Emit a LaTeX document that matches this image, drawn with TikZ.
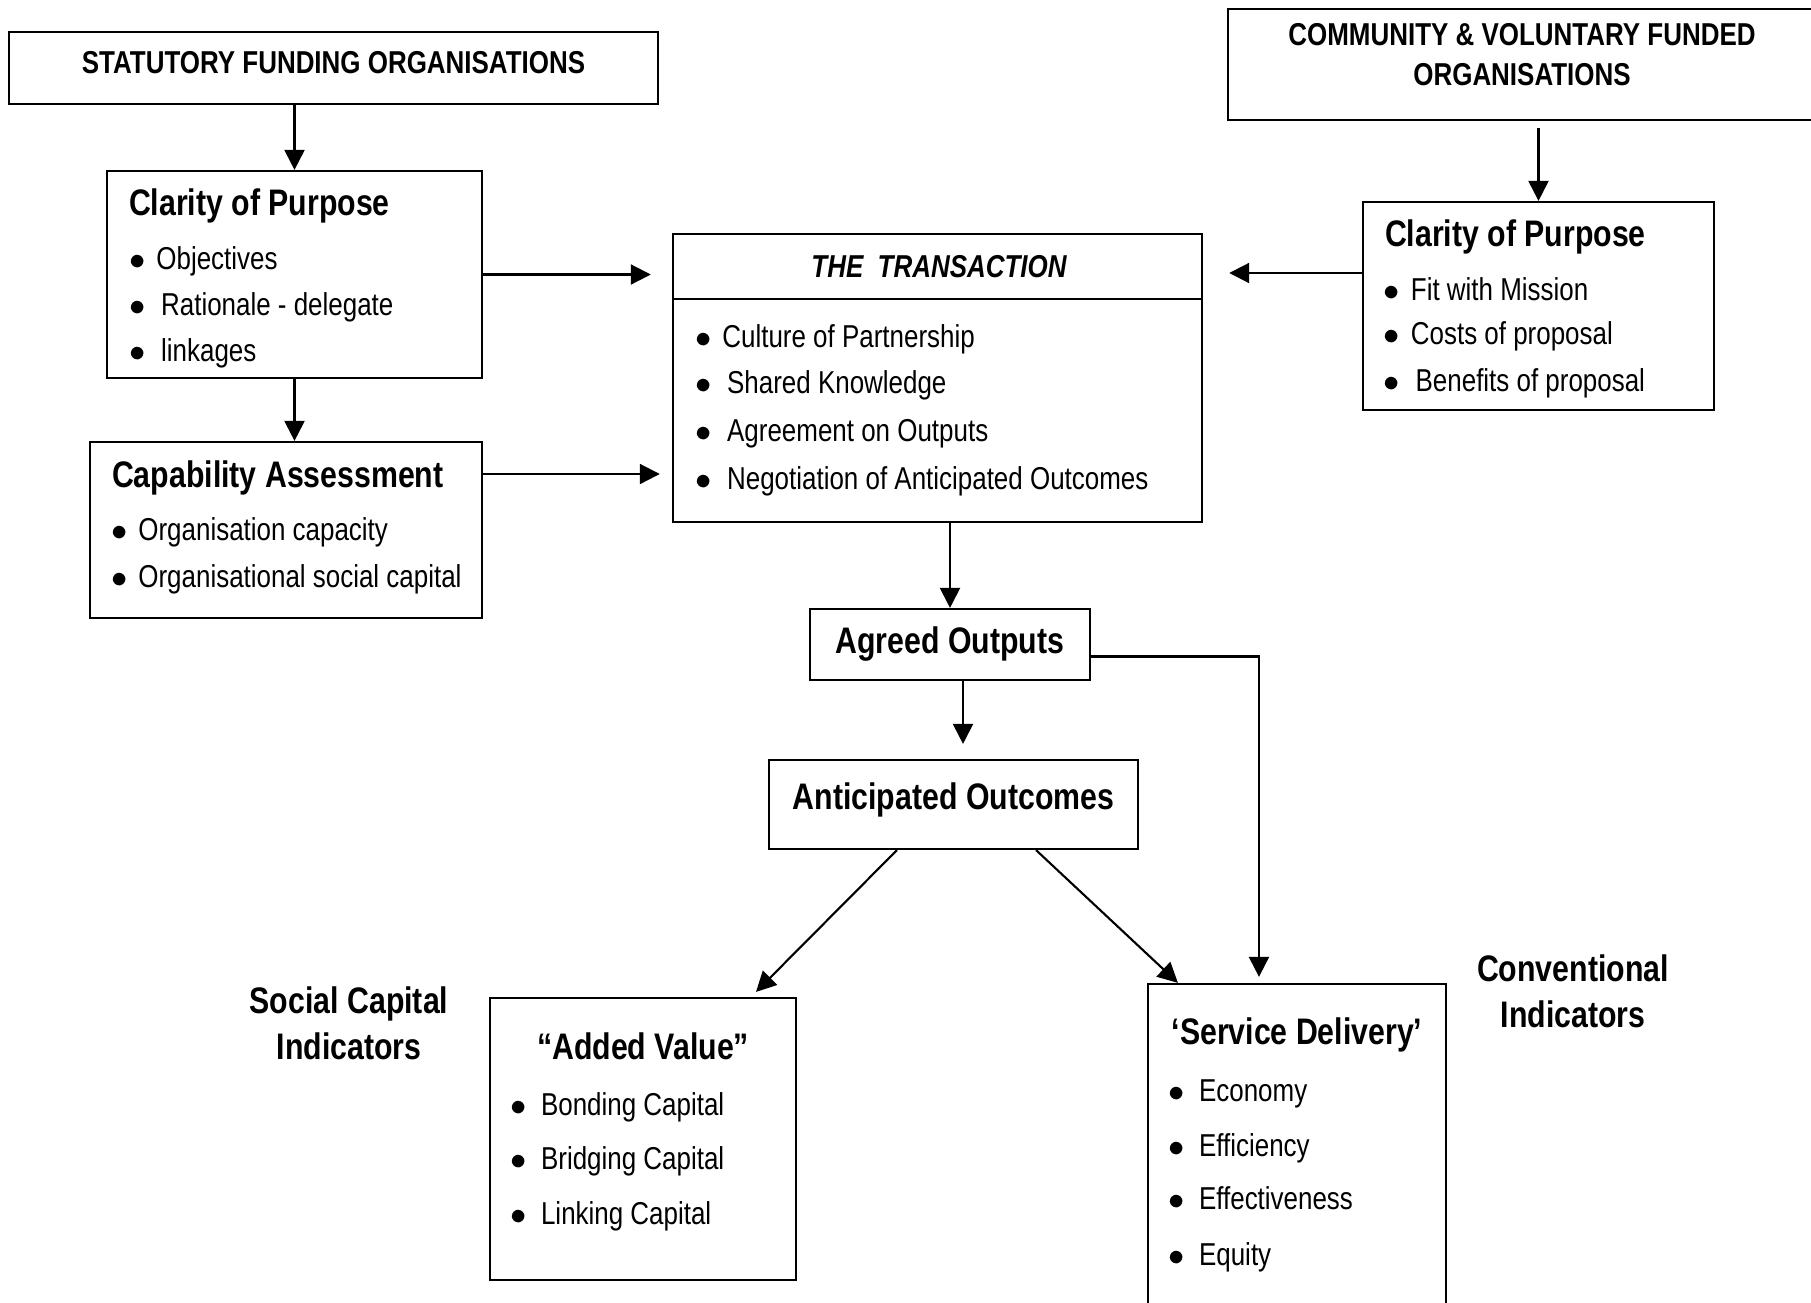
\documentclass[tikz,border=0pt]{standalone}
\usepackage{fontspec}
\setmainfont{Liberation Sans}[FakeStretch=0.82]
\usetikzlibrary{positioning, arrows.meta}
\newcommand{\blt}{$\bullet$}

\begin{document}
\begin{tikzpicture}[x=0.01cm, y=-0.01cm, line width=0.6pt,
          box/.style={rectangle, draw, inner sep=0pt},
          head/.style={inner sep=0pt, font=\fontsize{10.5}{13}\selectfont\bfseries, text height=7.5pt, text depth=0pt},
          orgtext/.style={inner sep=0pt, font=\fontsize{9}{11.4}\selectfont\bfseries, align=center},
          side/.style={inner sep=0pt, font=\fontsize{10.5}{13.1}\selectfont\bfseries, align=center},
          item/.style={inner sep=0pt, anchor=west, font=\fontsize{9}{11}\selectfont, text height=6.4pt, text depth=0pt},
          arr/.style={-{Triangle[length=0.2cm, width=0.2cm]}}]
          \useasboundingbox (0,0) rectangle (1811,1302);

          % funding organisations
          \node[box, orgtext, minimum width=6.49cm, minimum height=0.72cm, text height=6.4pt, text depth=3.4pt] (stat) at (333.5,68) {STATUTORY FUNDING ORGANISATIONS};
          \node[box, minimum width=6.02cm, minimum height=1.11cm] (comm) at (1529,64.5) {};
          \node[orgtext] (commtext) at (1522,55) {COMMUNITY \& VOLUNTARY FUNDED\\ORGANISATIONS};

          % statutory side
          \node[box, minimum width=3.75cm, minimum height=2.07cm] (clarL) at (294.5,274.5) {};
          \node[head, anchor=west] (clarLhead) at (128,202) {Clarity of Purpose};
          \node[item] (clarL1) at (128,258) {\blt\hspace{0.35em}Objectives};
          \node[item] (clarL2) at (128,304) {\blt\hspace{0.5em}Rationale - delegate};
          \node[item] (clarL3) at (128,350) {\blt\hspace{0.5em}linkages};

          \node[box, minimum width=3.92cm, minimum height=1.76cm] (capab) at (286,530) {};
          \node[head, anchor=west] (capabhead) at (111,474) {Capability Assessment};
          \node[item] (capab1) at (110,529) {\blt\hspace{0.35em}Organisation capacity};
          \node[item] (capab2) at (110,576) {\blt\hspace{0.35em}Organisational social capital};

          % transaction
          \node[box, minimum width=5.29cm, minimum height=2.88cm] (trans) at (937.5,378) {};
          \node[item, anchor=center, font=\fontsize{9}{11}\selectfont\bfseries\itshape] (transhead) at (939,266) {THE\ \ TRANSACTION};
          \node[item] (trans1) at (694,336) {\blt\hspace{0.35em}Culture of Partnership};
          \node[item] (trans2) at (694,382) {\blt\hspace{0.5em}Shared Knowledge};
          \node[item] (trans3) at (694,430) {\blt\hspace{0.5em}Agreement on Outputs};
          \node[item] (trans4) at (694,478) {\blt\hspace{0.5em}Negotiation of Anticipated Outcomes};

          % community side
          \node[box, minimum width=3.51cm, minimum height=2.08cm] (clarR) at (1538.5,306) {};
          \node[head, anchor=west] (clarRhead) at (1384,233) {Clarity of Purpose};
          \node[item] (clarR1) at (1382.5,289) {\blt\hspace{0.35em}Fit with Mission};
          \node[item] (clarR2) at (1382.5,333) {\blt\hspace{0.35em}Costs of proposal};
          \node[item] (clarR3) at (1382.5,380) {\blt\hspace{0.5em}Benefits of proposal};

          % outputs and outcomes
          \node[box, head, minimum width=2.80cm, minimum height=0.71cm, text depth=2.6pt] (agreed) at (950,644.5) {Agreed Outputs};
          \node[box, head, minimum width=3.69cm, minimum height=0.89cm, text depth=4.5pt] (antic) at (953.5,804.5) {Anticipated Outcomes};

          \node[box, minimum width=3.06cm, minimum height=2.82cm] (added) at (643,1139) {};
          \node[head] (addedhead) at (643,1046) {“Added Value”};
          \node[item] (added1) at (509.5,1104) {\blt\hspace{0.45em}Bonding Capital};
          \node[item] (added2) at (509.5,1158) {\blt\hspace{0.45em}Bridging Capital};
          \node[item] (added3) at (509.5,1213) {\blt\hspace{0.45em}Linking Capital};

          \node[box, minimum width=2.98cm, minimum height=3.36cm] (service) at (1297,1152) {};
          \node[head] (servicehead) at (1297,1031) {‘Service Delivery’};
          \node[item] (service1) at (1167.5,1090) {\blt\hspace{0.45em}Economy};
          \node[item] (service2) at (1167.5,1145) {\blt\hspace{0.45em}Efficiency};
          \node[item] (service3) at (1167.5,1198) {\blt\hspace{0.45em}Effectiveness};
          \node[item] (service4) at (1167.5,1254) {\blt\hspace{0.45em}Equity};

          \node[side] (socind) at (349,1023) {Social Capital\\Indicators};
          \node[side] (convind) at (1573,991.5) {Conventional\\Indicators};

          % connectors
          \draw ([yshift=-0.66cm]trans.north west) -- ([yshift=-0.66cm]trans.north east);
          \draw[arr] (stat.south -| clarL.north) -- (clarL.north);
          \draw[arr] (clarL.south) -- (clarL.south |- capab.north);
          \draw[arr, shorten >=0.21cm] (clarL.east) -- (clarL.east -| trans.west);
          \draw[arr, shorten >=0.12cm] (capabhead.east -| capab.east) -- (capabhead.east -| trans.west);
          \draw[arr, shorten <=0.07cm] (comm.south -| clarR.north) -- (clarR.north);
          \draw[arr, shorten >=0.26cm] ([yshift=0.33cm]clarR.west) -- ([yshift=0.33cm]clarR.west -| trans.east);
          \draw[arr] (trans.south -| agreed.north) -- (agreed.north);
          \draw[arr, shorten >=0.15cm] ([xshift=0.13cm]agreed.south) -- ([xshift=0.13cm]agreed.south |- antic.north);
          \draw[arr, shorten >=0.06cm] ([yshift=-0.12cm]agreed.east) -| ([xshift=-0.38cm]service.north);
          \draw[arr, shorten >=0.07cm] ([xshift=-0.565cm]antic.south) -- ([xshift=1.08cm]added.north);
          \draw[arr] ([xshift=0.825cm]antic.south) -- ([xshift=-1.19cm]service.north);
        \end{tikzpicture}
\end{document}
